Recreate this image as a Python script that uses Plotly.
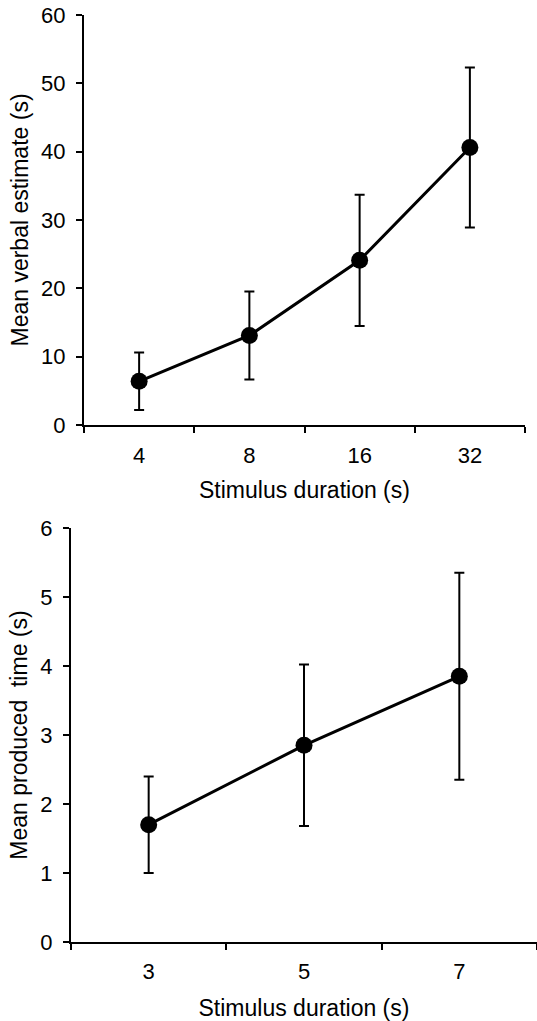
import plotly.graph_objects as go

# Top panel: verbal estimation
verbal_durations = ["4", "8", "16", "32"]
verbal_means = [6.4, 13.1, 24.1, 40.6]
verbal_errors = [4.2, 6.45, 9.6, 11.7]

# Bottom panel: time production
produced_durations = ["3", "5", "7"]
produced_means = [1.7, 2.85, 3.85]
produced_errors = [0.7, 1.17, 1.5]

W, H = 537, 1021
TICKFONT = dict(family="Liberation Sans, Arial, sans-serif", size=22, color="black")
TITLEFONT = dict(family="Liberation Sans, Arial, sans-serif", size=23, color="black")


def xd(a, b):
    return [max(0.0, a / W), min(1.0, b / W)]


def yd(top, bottom):
    return [1 - bottom / H, 1 - top / H]


fig = go.Figure()

fig.add_trace(go.Scatter(
    x=verbal_durations, y=verbal_means, xaxis="x", yaxis="y",
    mode="lines+markers",
    line=dict(color="black", width=3),
    marker=dict(color="black", size=17),
    error_y=dict(type="data", array=verbal_errors, visible=True,
                 color="black", thickness=2, width=5),
    showlegend=False,
))

fig.add_trace(go.Scatter(
    x=produced_durations, y=produced_means, xaxis="x2", yaxis="y2",
    mode="lines+markers",
    line=dict(color="black", width=3),
    marker=dict(color="black", size=17),
    error_y=dict(type="data", array=produced_errors, visible=True,
                 color="black", thickness=2, width=5),
    showlegend=False,
))

axis_common = dict(
    showline=True, linecolor="black", linewidth=2,
    ticks="outside", ticklen=6, tickwidth=2, tickcolor="black",
    showgrid=False, zeroline=False, tickfont=TICKFONT,
    automargin=False, ticklabeloverflow="allow",
)

fig.update_layout(
    width=W, height=H,
    margin=dict(l=0, r=0, t=0, b=0),
    paper_bgcolor="white", plot_bgcolor="white",
    font=TICKFONT,
    xaxis=dict(**axis_common, type="category", tickson="boundaries",
               range=[-0.5, 3.5], ticklabelstandoff=10,
               domain=xd(84, 525), anchor="y",
               title=dict(text="Stimulus duration (s)", font=TITLEFONT, standoff=14)),
    yaxis=dict(**axis_common, range=[0, 60], dtick=10, ticklabelstandoff=6,
               domain=yd(15, 425), anchor="x",
               title=dict(text="Mean verbal estimate (s)", font=TITLEFONT, standoff=6)),
    xaxis2=dict(**axis_common, type="category", tickson="boundaries",
                range=[-0.5, 2.5], ticklabelstandoff=9,
                domain=xd(71, 537), anchor="y2",
                title=dict(text="Stimulus duration (s)", font=TITLEFONT, standoff=16)),
    yaxis2=dict(**axis_common, range=[0, 6], dtick=1, ticklabelstandoff=6,
                domain=yd(528, 942), anchor="x2",
                title=dict(text="Mean produced  time (s)", font=TITLEFONT, standoff=6)),
)

# remove the default 8px page margin so the figure fills the window exactly
fig.write_html(
    "out.html",
    config={"displayModeBar": False},
    post_script="document.body.style.margin='0';document.body.style.overflow='hidden';",
)
